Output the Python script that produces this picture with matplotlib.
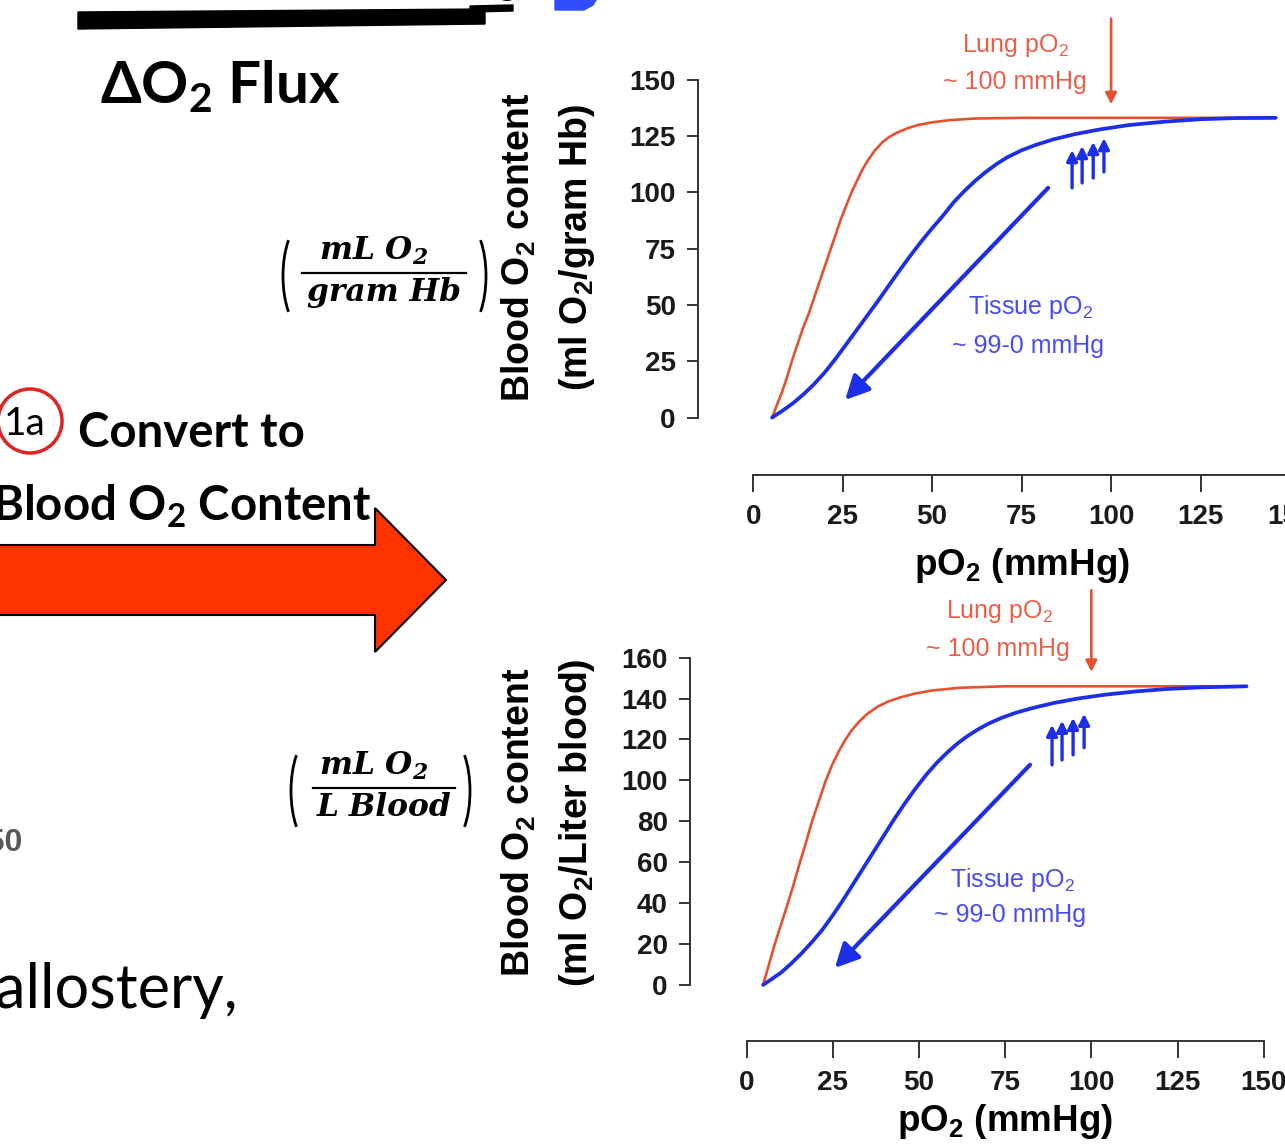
import numpy as np
import matplotlib.pyplot as plt
from matplotlib.patches import Polygon, Circle, Arc

# pO2 (mmHg) vs O2 content, per gram Hb
hb_x_ticks = [0, 25, 50, 75, 100, 125, 150]
hb_y_ticks = [0, 25, 50, 75, 100, 125, 150]
hb_lung_po2 = [5.3, 6.5, 8, 9.5, 10.8, 12.5, 14, 15.5, 16.8, 18.5, 20, 21.5, 23, 24.5, 26, 27.5,
               29, 30.5, 32, 34, 36, 38, 40, 43, 46, 50, 55, 62, 75, 100, 125, 146]
hb_lung_o2 = [0, 5, 11, 18, 25, 33, 40, 46, 52, 60, 67, 74, 81, 88, 94, 100,
              105, 110, 114, 118.5, 122, 124.5, 126.3, 128.3, 129.8, 131, 132, 132.7, 133, 133, 133, 133]
hb_tissue_po2 = [5.3, 8, 11, 14, 17, 20, 23, 26, 29, 32, 35, 38, 41, 44, 47, 50, 53, 56, 59, 62,
                 65, 68, 71, 75, 79, 84, 90, 97, 105, 115, 125, 135, 146]
hb_tissue_o2 = [0, 2.8, 6.2, 10.2, 14.8, 20, 26, 32.5, 39, 45.5, 52, 58.8, 65.5, 72, 78.2, 84, 89.5,
                95.5, 100.5, 105, 109, 112.5, 115.5, 118.6, 121, 123.5, 125.8, 127.9, 129.8, 131.3,
                132.4, 132.9, 133]

# pO2 (mmHg) vs O2 content, per litre of blood
bl_x_ticks = [0, 25, 50, 75, 100, 125, 150]
bl_y_ticks = [0, 20, 40, 60, 80, 100, 120, 140, 160]
bl_lung_po2 = [4.8, 6.5, 8.2, 10, 12, 13.8, 15.5, 17.3, 19, 21, 23, 24.8, 26.7, 28.5, 30.5, 32.5,
               35, 38, 41, 44.6, 49, 54, 62, 75, 100, 125, 145]
bl_lung_o2 = [0, 10, 20, 29.5, 40, 50, 60, 70, 80, 90, 100, 107.5, 114, 119.5, 124.5, 128.5,
              132.5, 136, 138.5, 140.6, 142.5, 144, 145.3, 146, 146, 146, 146]
bl_tissue_po2 = [4.8, 7, 10, 13, 16, 19, 22, 25, 28, 31, 34, 37, 40, 43, 46, 49, 52, 55, 58, 61,
                 64, 67, 70, 74, 78, 83, 89, 96, 104, 113, 122, 132, 145]
bl_tissue_o2 = [0, 2.5, 6, 10.5, 15.5, 21, 27, 34, 41.5, 49.5, 57.5, 65.5, 73.5, 81.5, 89, 96,
                102.5, 108.3, 113.3, 117.8, 121.6, 124.8, 127.6, 130.6, 133, 135.4, 137.8, 140,
                141.9, 143.5, 144.7, 145.5, 146]

lung_po2 = 100
hb_lung_arrow = (177, 139)
bl_lung_arrow = (193, 153)
hb_small_x = [89.1, 91.9, 95.0, 98.0]
hb_small_lo = [101.9, 104.1, 106.3, 109.0]
hb_small_hi = [118.7, 120.5, 122.3, 124.0]
bl_small_x = [88.6, 91.5, 94.7, 97.9]
bl_small_lo = [107.6, 110.0, 112.5, 116.0]
bl_small_hi = [127.2, 129.2, 130.6, 132.6]
hb_unload = ((82.4, 101.9), (25.7, 7.8))
bl_unload = ((82.2, 107.6), (25.6, 8.3))

RED = '#e5502f'
BLUE = '#1c2ee6'
RED_TXT = '#e8604a'
BLUE_TXT = '#4a4cf0'
SUB = '$_\\mathregular{2}$'

plt.rcParams['font.family'] = ['Liberation Sans', 'DejaVu Sans']

fig = plt.figure(figsize=(12.85, 11.45), dpi=100)

# full-figure layer in pixel units for the slide text and shapes
bg = fig.add_axes([0, 0, 1, 1])
bg.set_xlim(0, 1285)
bg.set_ylim(1145, 0)
bg.axis('off')

bg.add_patch(Polygon([(78, 12), (485, 9), (485, 24), (78, 29)], closed=True, color='black'))
bg.add_patch(Polygon([(470, 6), (513, 5), (513, 11), (470, 12)], closed=True, color='black'))
bg.text(224, -6, '(', fontsize=26, ha='center', va='baseline', family='Lato')
bg.text(512, -5, 'g)', fontsize=26, ha='center', va='baseline', family='Lato')
bg.add_patch(Polygon([(555, 0), (596, 0), (593, 5), (584, 10), (555, 10)], closed=True, color='#2f4dff'))

slide_font = ['Lato', 'DejaVu Sans']
bg.text(100, 103, '\u0394O' + SUB + ' Flux', fontsize=42, fontweight='bold', family=slide_font, va='baseline')
bg.add_patch(Circle((30, 421), 32, fill=False, edgecolor='#e02222', lw=2.5))
bg.text(25, 424, '1a', fontsize=28, family=slide_font, ha='center', va='center')
bg.text(78, 447, 'Convert to', fontsize=34, fontweight='bold', family=slide_font, va='baseline')
bg.text(372, 521, 'Blood O' + SUB + ' Content', fontsize=34, fontweight='bold', family=slide_font,
        ha='right', va='baseline')
bg.add_patch(Polygon([(-5, 545), (375, 545), (375, 508), (446, 580), (375, 652), (375, 615), (-5, 615)],
                     closed=True, facecolor='#ff3300', edgecolor='black', lw=1.5))
bg.text(238, 1008, 'allostery,', fontsize=44, family=slide_font, ha='right', va='baseline')
bg.text(22, 843, '150', fontsize=23, fontweight='bold', color='#3a3a3a', ha='right', va='center', alpha=0.85)


# unit fractions beside each chart
def unit_fraction(cx, cy, top, bottom, half, lpar, rpar):
    serif = dict(family='DejaVu Serif', fontweight='bold', fontstyle='italic', fontsize=22.5, ha='center')
    bg.text(cx - 10, cy - 6, top, va='bottom', **serif)
    bg.text(cx, cy + 4, bottom, va='top', **serif)
    bg.plot([cx - half, cx + half], [cy, cy], color='black', lw=1.6)
    bg.add_patch(Arc((lpar, cy + 3), 40, 104, theta1=112, theta2=248, lw=2))
    bg.add_patch(Arc((rpar, cy + 3), 40, 104, theta1=-68, theta2=68, lw=2))


unit_fraction(384, 273, 'mL O' + SUB, 'gram Hb', 82, 303, 466)
unit_fraction(384, 788, 'mL O' + SUB, 'L Blood', 71, 311, 450)

ylab = dict(fontsize=27, fontweight='bold', rotation=90, ha='center', va='center')
bg.text(519, 247, 'Blood O' + SUB + ' content', **ylab)
bg.text(577, 247, '(ml O' + SUB + '/gram Hb)', **ylab)
bg.text(519, 822, 'Blood O' + SUB + ' content', **ylab)
bg.text(577, 823, '(ml O' + SUB + '/Liter blood)', **ylab)


def draw_panel(rect, xlim, ylim, yticks, label_y, lung, tissue, arrow_y, small, unload, texts):
    ax = fig.add_axes(rect)
    ax.set_facecolor('none')
    ax.set_xlim(*xlim)
    ax.set_ylim(*ylim)
    for s in ['top', 'right']:
        ax.spines[s].set_visible(False)
    for s in ['left', 'bottom']:
        ax.spines[s].set_color('#333333')
        ax.spines[s].set_linewidth(1.4)
    ax.spines['left'].set_bounds(yticks[0], yticks[-1])
    ax.spines['bottom'].set_bounds(0, 150)
    ax.set_xticks(hb_x_ticks)
    ax.set_yticks(yticks)
    ax.tick_params(axis='y', length=8, width=1.4, pad=8, labelsize=20, color='#333333')
    ax.tick_params(axis='x', length=12, width=1.4, pad=9, labelsize=20, color='#333333')
    for lbl in ax.get_xticklabels() + ax.get_yticklabels():
        lbl.set_fontweight('bold')
        lbl.set_color('#1a1a1a')
    ax.set_xlabel('pO' + SUB + ' (mmHg)', fontsize=26.5, fontweight='bold')
    ax.xaxis.set_label_coords((75 - xlim[0]) / (xlim[1] - xlim[0]), label_y)

    ax.plot(lung[0], lung[1], color=RED, lw=1.9, solid_capstyle='round', solid_joinstyle='round', clip_on=False)
    ax.plot(tissue[0], tissue[1], color=BLUE, lw=2.7, solid_capstyle='round', solid_joinstyle='round', clip_on=False)

    ax.annotate('', xy=(lung_po2, arrow_y[1]), xytext=(lung_po2, arrow_y[0]), annotation_clip=False,
                arrowprops=dict(arrowstyle='-|>', color=RED, lw=1.9, mutation_scale=17, shrinkA=0, shrinkB=0))
    for x, lo, hi in zip(*small):
        ax.annotate('', xy=(x, hi), xytext=(x, lo), annotation_clip=False,
                    arrowprops=dict(arrowstyle='-|>', color=BLUE, lw=2.4, mutation_scale=16, shrinkA=0, shrinkB=0))
    ax.annotate('', xy=unload[1], xytext=unload[0], annotation_clip=False,
                arrowprops=dict(arrowstyle='-|>', color=BLUE, lw=3, mutation_scale=36, shrinkA=0, shrinkB=0))

    for (x, y, s, c) in texts:
        ax.text(x, y, s, color=c, fontsize=18, ha='center', va='center')
    return ax


draw_panel([698 / 1285, 1 - 475 / 1145, (1308 - 698) / 1285, (475 - 57) / 1145],
           (-15.4, 155), (-25.5, 160), hb_y_ticks, -0.17,
           (hb_lung_po2, hb_lung_o2), (hb_tissue_po2, hb_tissue_o2),
           hb_lung_arrow, (hb_small_x, hb_small_lo, hb_small_hi), hb_unload,
           [(73.2, 165.3, 'Lung pO' + SUB, RED_TXT), (73.2, 148.9, '~ 100 mmHg', RED_TXT),
            (77.4, 49, 'Tissue pO' + SUB, BLUE_TXT), (76.8, 31.7, '~ 99-0 mmHg', BLUE_TXT)])

draw_panel([690 / 1285, 1 - 1040.5 / 1145, (1281 - 690) / 1285, (1040.5 - 627) / 1145],
           (-16.4, 155), (-27.2, 175), bl_y_ticks, -0.148,
           (bl_lung_po2, bl_lung_o2), (bl_tissue_po2, bl_tissue_o2),
           bl_lung_arrow, (bl_small_x, bl_small_lo, bl_small_hi), bl_unload,
           [(73.5, 182.5, 'Lung pO' + SUB, RED_TXT), (72.9, 164.4, '~ 100 mmHg', RED_TXT),
            (77.0, 51.4, 'Tissue pO' + SUB, BLUE_TXT), (76.4, 34.2, '~ 99-0 mmHg', BLUE_TXT)])

fig.savefig('out.png', dpi=100, facecolor='white')
